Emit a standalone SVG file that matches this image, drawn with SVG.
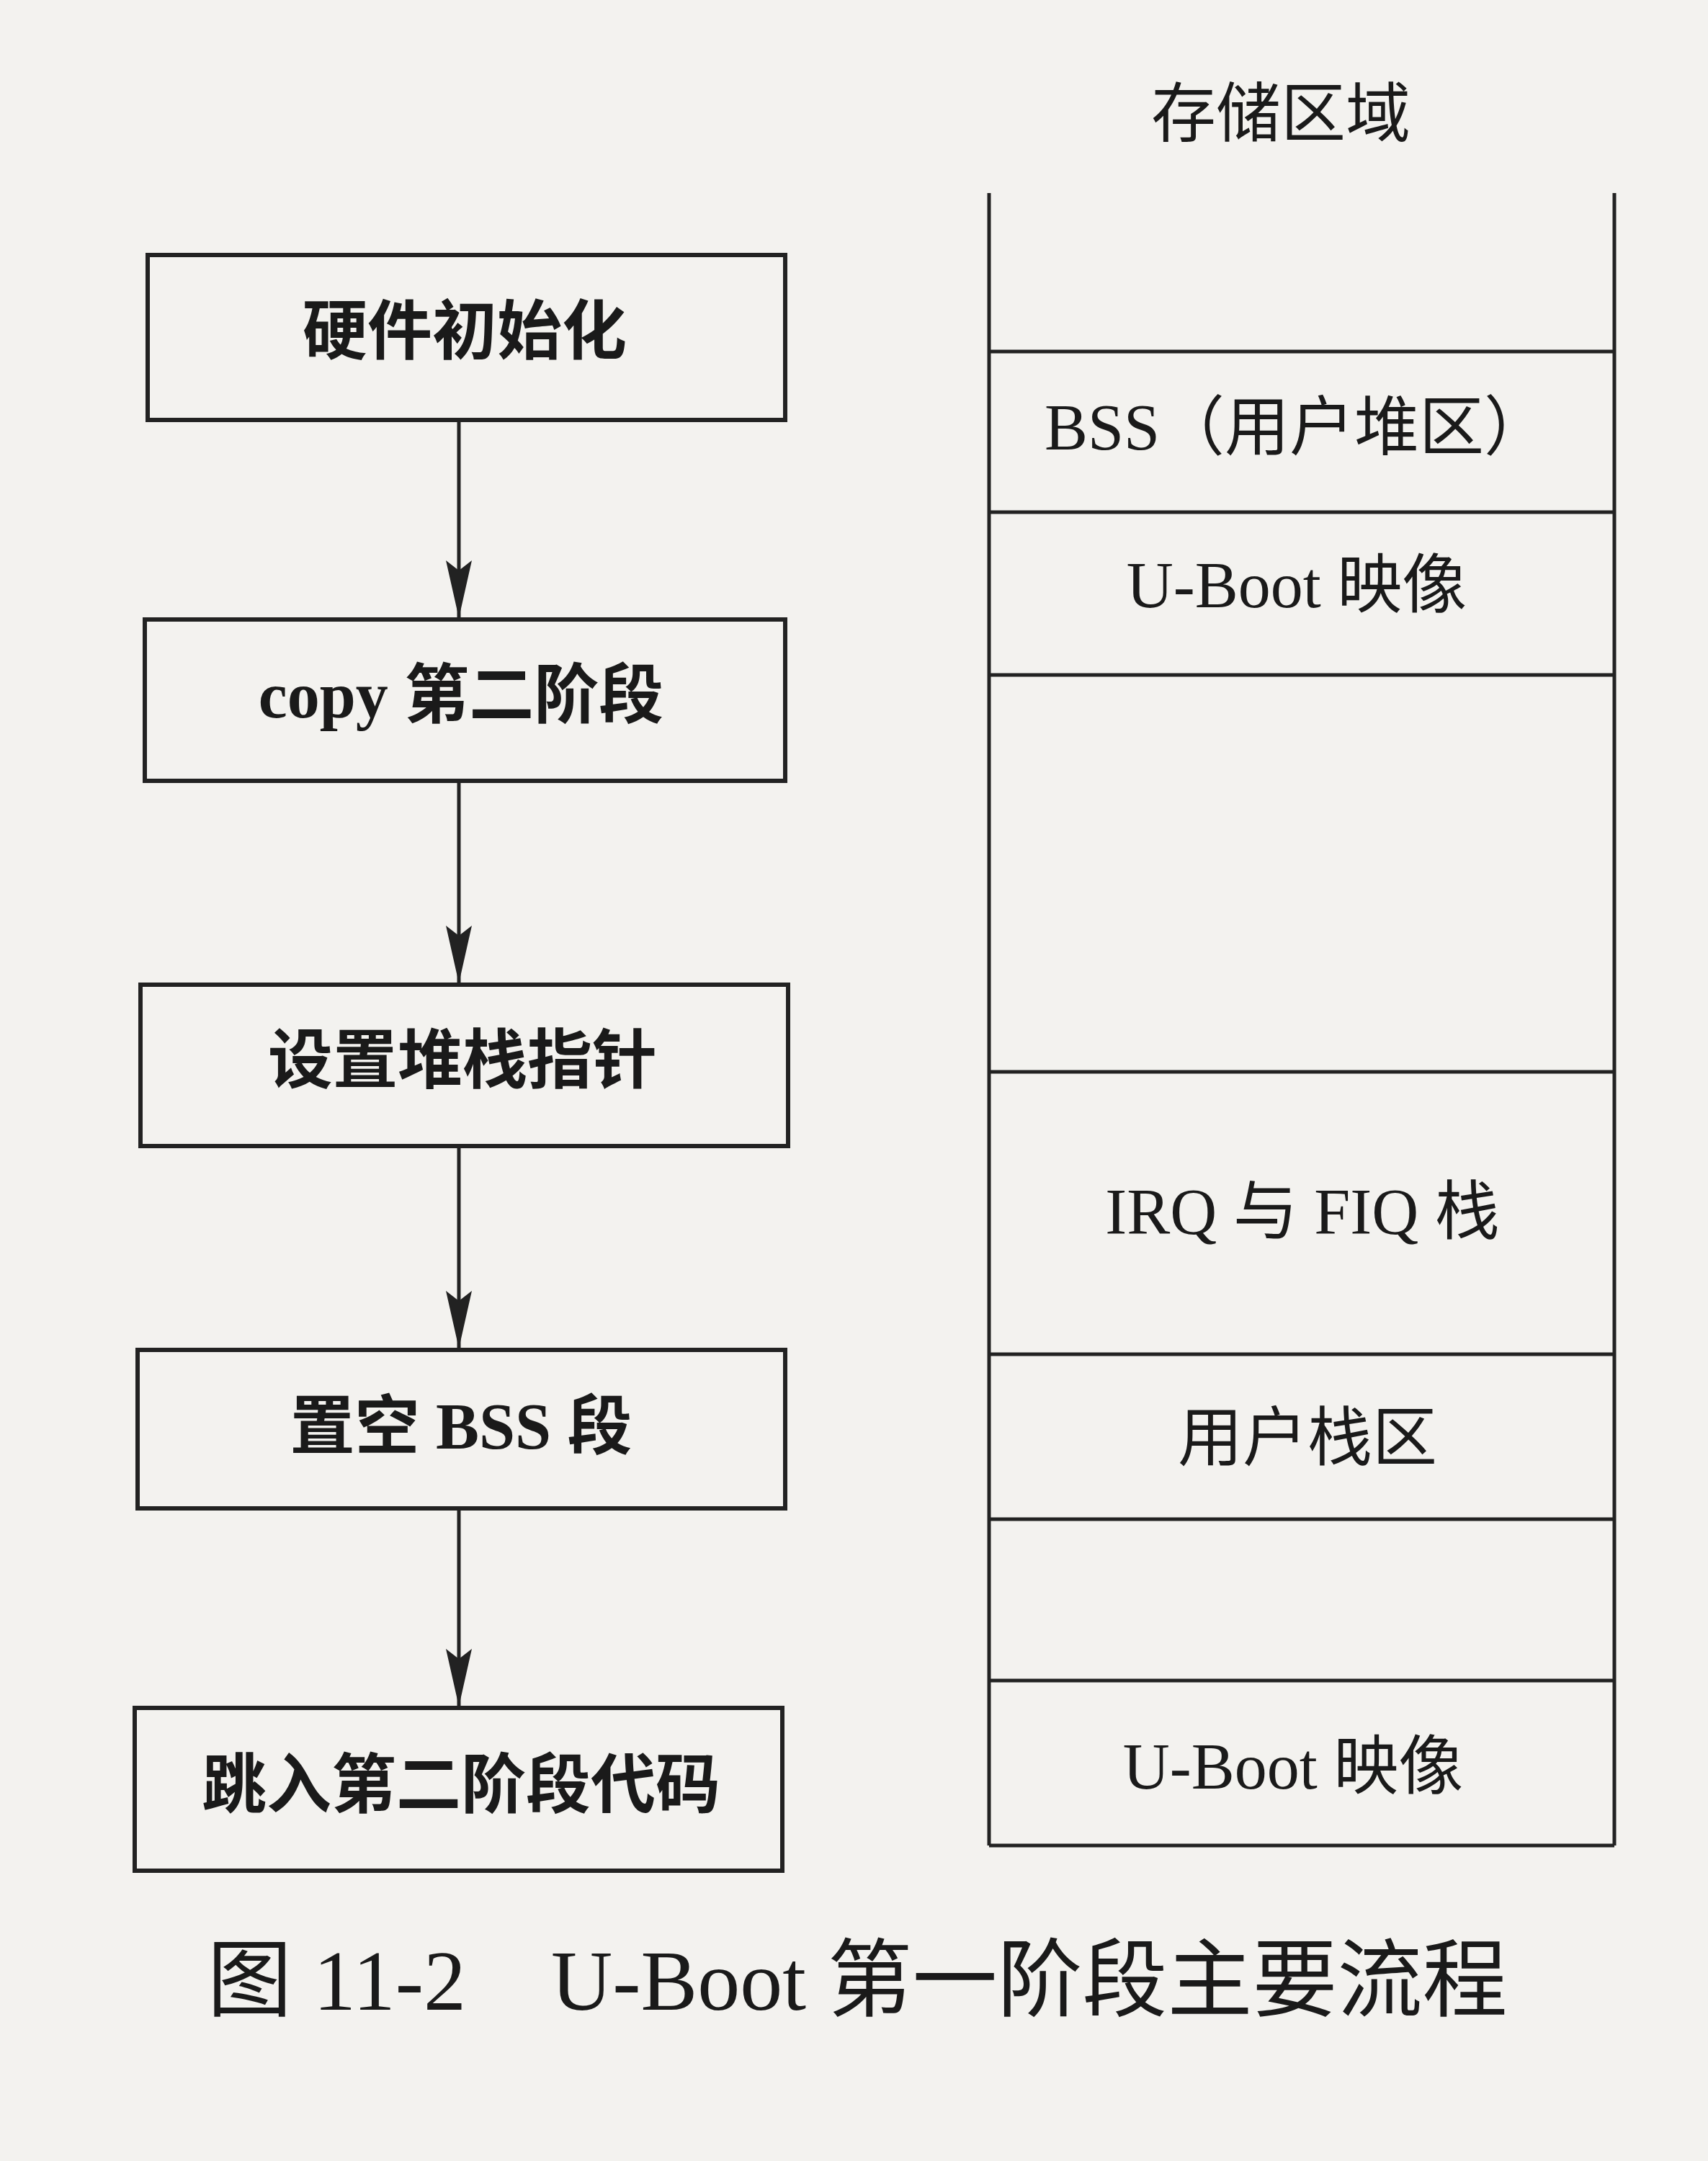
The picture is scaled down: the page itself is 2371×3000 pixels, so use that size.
<svg xmlns="http://www.w3.org/2000/svg" width="2371" height="3000" viewBox="0 0 2371 3000">
<defs>
<marker id="ah" markerWidth="80" markerHeight="36" refX="80" refY="18" orient="auto" markerUnits="userSpaceOnUse" viewBox="0 0 80 36"><path d="M0,0 L80,18 L0,36 L14,18 Z" fill="#222"/></marker>
<style>
.b{fill:none;stroke:#222;stroke-width:6}
.t{font-family:"Liberation Serif","Noto Sans CJK SC",serif;font-size:90px;fill:#1a1a1a;text-anchor:middle;dominant-baseline:middle}
.l{stroke:#222;stroke-width:5;fill:none}
</style>
</defs>
<rect width="2371" height="3000" fill="#f3f2ef"/>
<g id="n1"><rect class="b" x="205" y="354" width="885" height="229"/><text class="t" x="645" y="470" font-weight="bold">硬件初始化</text></g>
<g id="n2"><rect class="b" x="201" y="860" width="889" height="224"/><text class="t" x="640" y="975" font-weight="bold">copy 第二阶段</text></g>
<g id="n3"><rect class="b" x="195" y="1367" width="899" height="224"/><text class="t" x="642" y="1482" font-weight="bold">设置堆栈指针</text></g>
<g id="n4"><rect class="b" x="191" y="1874" width="899" height="220"/><text class="t" x="640" y="1990" font-weight="bold">置空 BSS 段</text></g>
<g id="n5"><rect class="b" x="187" y="2371" width="899" height="226"/><text class="t" x="640" y="2488" font-weight="bold">跳入第二阶段代码</text></g>
<g id="connectors">
<line class="l" x1="637" y1="583" x2="637" y2="858" marker-end="url(#ah)"/>
<line class="l" x1="637" y1="1084" x2="637" y2="1365" marker-end="url(#ah)"/>
<line class="l" x1="637" y1="1591" x2="637" y2="1872" marker-end="url(#ah)"/>
<line class="l" x1="637" y1="2094" x2="637" y2="2369" marker-end="url(#ah)"/>
</g>
<g id="memory">
<text class="t" x="1778" y="168">存储区域</text>
<line class="l" x1="1373" y1="268" x2="1373" y2="2562"/>
<line class="l" x1="2241" y1="268" x2="2241" y2="2562"/>
<line class="l" x1="1373" y1="488" x2="2241" y2="488"/>
<line class="l" x1="1373" y1="711" x2="2241" y2="711"/>
<line class="l" x1="1373" y1="937" x2="2241" y2="937"/>
<line class="l" x1="1373" y1="1488" x2="2241" y2="1488"/>
<line class="l" x1="1373" y1="1880" x2="2241" y2="1880"/>
<line class="l" x1="1373" y1="2109" x2="2241" y2="2109"/>
<line class="l" x1="1373" y1="2333" x2="2241" y2="2333"/>
<line class="l" x1="1373" y1="2562" x2="2241" y2="2562"/>
<text class="t" x="1800" y="603">BSS（用户堆区）</text>
<text class="t" x="1800" y="822">U-Boot 映像</text>
<text class="t" x="1808" y="1692">IRQ 与 FIQ 栈</text>
<text class="t" x="1815" y="2006">用户栈区</text>
<text class="t" x="1795" y="2462">U-Boot 映像</text>
</g>
<text class="t" x="1190" y="2763" style="font-size:118px">图 11-2　U-Boot 第一阶段主要流程</text>
</svg>
